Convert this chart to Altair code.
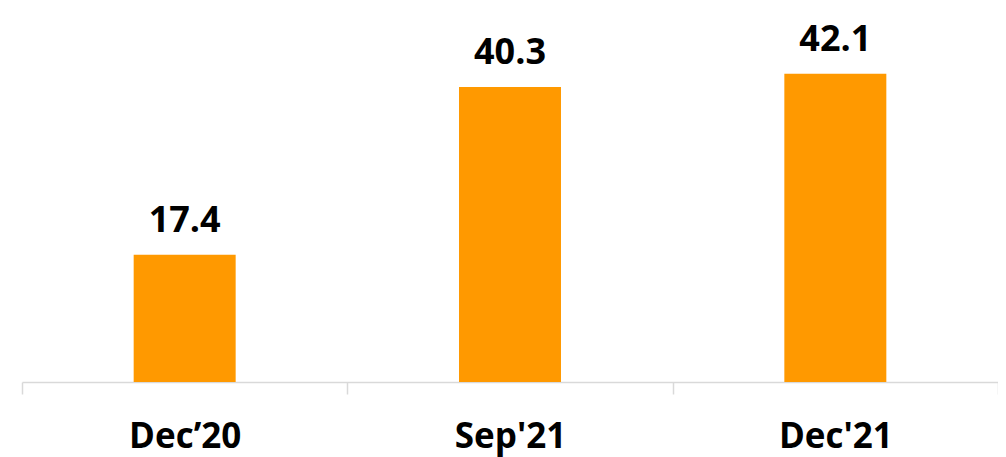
import altair as alt
import pandas as pd

categories = ["Dec’20", "Sep'21", "Dec'21"]
values = [17.4, 40.3, 42.1]
labels = ["17.4", "40.3", "42.1"]

df = pd.DataFrame({"cat": categories, "val": values, "lab": labels})

FONT = "Open Sans"

x = alt.X(
    "cat:N",
    sort=categories,
    title=None,
    scale=alt.Scale(paddingInner=0, paddingOuter=0),
    axis=alt.Axis(
        domainColor="#d9d9d9",
        domainWidth=1.5,
        tickColor="#d9d9d9",
        tickWidth=1.5,
        tickSize=12,
        tickBand="extent",
        labelAngle=0,
        labelFont=FONT,
        labelFontSize=35,
        labelFontWeight="bold",
        labelColor="#000000",
        labelBaseline="alphabetic",
        labelPadding=53,
    ),
)
y = alt.Y("val:Q", title=None, scale=alt.Scale(domain=[0, 50]), axis=None)

bars = alt.Chart(df).mark_bar(color="#FF9900", width=alt.RelativeBandSize(0.3135)).encode(x=x, y=y)
text = alt.Chart(df).mark_text(
    font=FONT, fontSize=36, fontWeight="bold", color="#000000",
    baseline="alphabetic", dy=-23
).encode(x=x, y=y, text="lab:N")

chart = (bars + text).properties(
    width=976, height=366,
    background="white",
    autosize=alt.AutoSizeParams(type="none"),
    padding={"left": 14, "top": 8, "right": 0, "bottom": 75},
).configure_view(strokeWidth=0, stroke=None)

chart.save("out.html", embed_options={"renderer": "svg", "actions": False})
